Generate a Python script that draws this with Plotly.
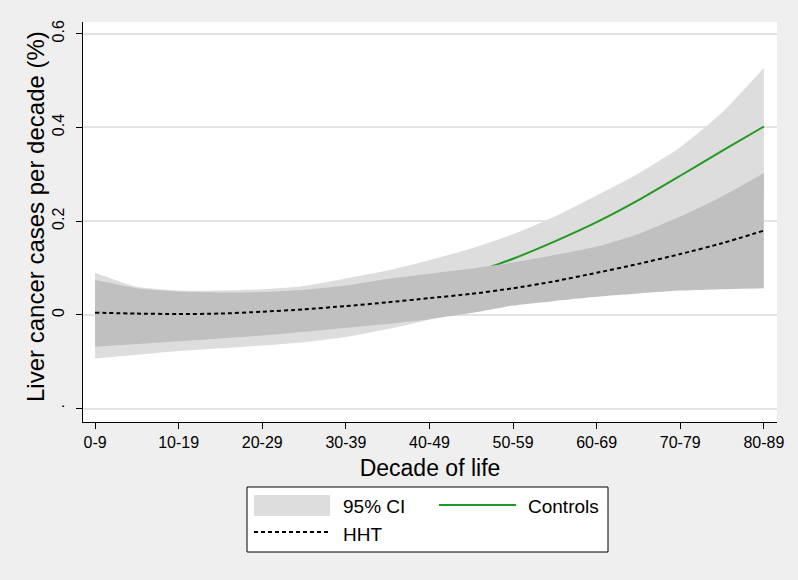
import plotly.graph_objects as go

# ---------------- data ----------------
x_pos = [0, 0.5, 1, 1.5, 2, 2.5, 3, 3.5, 4, 4.5, 5, 5.5, 6, 6.5, 7, 7.5, 8]
tick_vals_x = [0, 1, 2, 3, 4, 5, 6, 7, 8]
tick_labels_x = ["0-9", "10-19", "20-29", "30-39", "40-49", "50-59", "60-69", "70-79", "80-89"]
tick_vals_y = [-0.2, 0, 0.2, 0.4, 0.6]
tick_labels_y = [".", "0", "0.2", "0.4", "0.6"]

hht_est = [0.005, 0.003, 0.002, 0.003, 0.007, 0.012, 0.019, 0.027, 0.036, 0.045,
           0.057, 0.072, 0.090, 0.109, 0.130, 0.153, 0.180]
hht_upper = [0.075, 0.057, 0.050, 0.048, 0.049, 0.054, 0.063, 0.077, 0.088, 0.099,
             0.112, 0.128, 0.146, 0.173, 0.210, 0.253, 0.303]
hht_lower = [-0.068, -0.062, -0.056, -0.050, -0.044, -0.036, -0.027, -0.019, -0.009, 0.004,
             0.020, 0.030, 0.039, 0.046, 0.052, 0.055, 0.057]

ctrl_est = [0.000, 0.000, 0.000, 0.001, 0.003, 0.010, 0.020, 0.035, 0.058, 0.088,
            0.120, 0.157, 0.198, 0.245, 0.297, 0.350, 0.402]
ctrl_upper = [0.090, 0.060, 0.052, 0.052, 0.055, 0.062, 0.078, 0.095, 0.117, 0.142,
              0.172, 0.210, 0.255, 0.302, 0.358, 0.432, 0.527]
ctrl_lower = [-0.093, -0.085, -0.077, -0.071, -0.065, -0.058, -0.047, -0.030, -0.010, 0.010,
              0.030, 0.050, 0.075, 0.100, 0.140, 0.190, 0.250]

LIGHT = "#dddddd"
DARK = "#c0c0c0"
GREEN = "#229a22"
BG = "#efefef"
FONT = "Liberation Sans, Arial, sans-serif"
SM = 0.6

fig = go.Figure()

# Controls 95% CI
fig.add_trace(go.Scatter(
    x=x_pos, y=ctrl_lower, mode="lines", line=dict(width=0, shape="spline", smoothing=SM),
    hoverinfo="skip", showlegend=False))
fig.add_trace(go.Scatter(
    x=x_pos, y=ctrl_upper, mode="lines", line=dict(width=0, shape="spline", smoothing=SM),
    fill="tonexty", fillcolor=LIGHT, hoverinfo="skip", showlegend=False))
# Controls estimate
fig.add_trace(go.Scatter(
    x=x_pos, y=ctrl_est, mode="lines",
    line=dict(color=GREEN, width=2, shape="spline", smoothing=SM), showlegend=False))
# HHT 95% CI
fig.add_trace(go.Scatter(
    x=x_pos, y=hht_lower, mode="lines", line=dict(width=0, shape="spline", smoothing=SM),
    hoverinfo="skip", showlegend=False))
fig.add_trace(go.Scatter(
    x=x_pos, y=hht_upper, mode="lines", line=dict(width=0, shape="spline", smoothing=SM),
    fill="tonexty", fillcolor=DARK, hoverinfo="skip", showlegend=False))
# HHT estimate
fig.add_trace(go.Scatter(
    x=x_pos, y=hht_est, mode="lines",
    line=dict(color="black", width=2, dash="4px,3px", shape="spline", smoothing=SM),
    showlegend=False))

# ---------------- manual legend & y title ----------------
L, R, T, B = 83, 777, 22, 422
W, H = R - L, B - T
def px(v):
    return (v - L) / W
def py(v):
    return (B - v) / H

shapes = [
    dict(type="rect", xref="paper", yref="paper", x0=px(247), x1=px(608), y0=py(487), y1=py(552),
         fillcolor="white", line=dict(color="black", width=1)),
    dict(type="rect", xref="paper", yref="paper", x0=px(254), x1=px(330), y0=py(495), y1=py(516),
         fillcolor=LIGHT, line=dict(width=0)),
    dict(type="line", xref="paper", yref="paper", x0=px(439), x1=px(516), y0=py(505), y1=py(505),
         line=dict(color=GREEN, width=2)),
    dict(type="line", xref="paper", yref="paper", x0=px(254), x1=px(330), y0=py(532), y1=py(532),
         line=dict(color="black", width=2, dash="4px,3px")),
]
annotations = [
    dict(text="95% CI", xref="paper", yref="paper", x=px(341), y=py(506), xanchor="left",
         yanchor="middle", showarrow=False, font=dict(size=19, color="black", family=FONT)),
    dict(text="Controls", xref="paper", yref="paper", x=px(526), y=py(506), xanchor="left",
         yanchor="middle", showarrow=False, font=dict(size=19, color="black", family=FONT)),
    dict(text="HHT", xref="paper", yref="paper", x=px(341), y=py(534), xanchor="left",
         yanchor="middle", showarrow=False, font=dict(size=19, color="black", family=FONT)),
    dict(text="Liver cancer cases per decade (%)", xref="paper", yref="paper",
         x=px(35), y=py(217), xanchor="center", yanchor="middle", textangle=-90,
         showarrow=False, font=dict(size=24, color="black", family=FONT)),
]

fig.update_layout(
    width=798, height=580,
    margin=dict(l=L, r=798 - R, t=T, b=580 - B),
    paper_bgcolor=BG, plot_bgcolor="white",
    font=dict(family=FONT, color="black"),
    shapes=shapes, annotations=annotations,
    showlegend=False,
)
fig.update_xaxes(
    range=[-0.144, 8.157], tickvals=tick_vals_x, ticktext=tick_labels_x,
    showgrid=False, zeroline=False, showline=True, linecolor="black", linewidth=1,
    ticks="outside", ticklen=6, tickcolor="black", tickfont=dict(size=16),
    title=dict(text="Decade of life", font=dict(size=23), standoff=9),
)
fig.update_yaxes(
    range=[-0.2283, 0.625], tickvals=tick_vals_y, ticktext=tick_labels_y,
    showgrid=True, gridcolor="#e3e3e3", gridwidth=1.5, zeroline=False,
    showline=True, linecolor="black", linewidth=1,
    ticks="outside", ticklen=6, tickcolor="black", tickfont=dict(size=16), tickangle=-90,
    ticklabelstandoff=6,
)

fig.write_html(
    "out.html",
    config={"displayModeBar": False},
    post_script="document.body.style.margin='0';document.body.style.background='%s';" % BG,
)
